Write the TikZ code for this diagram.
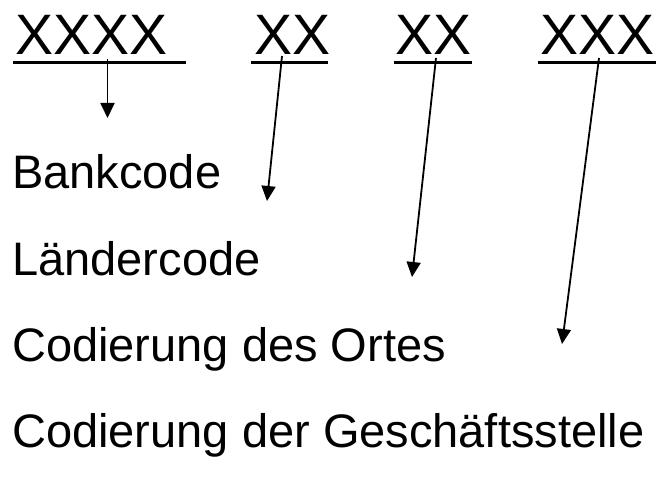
\documentclass[tikz,border=0pt]{standalone}
\usepackage{fontspec}
\setmainfont{Liberation Sans}
\usetikzlibrary{arrows.meta}
\begin{document}
\begin{tikzpicture}[x=1pt,y=-1pt,
  codetext/.style={font=\fontsize{57}{57}\selectfont, inner sep=0pt, anchor=base west},
  desc/.style={font=\fontsize{47}{47}\selectfont, inner sep=0pt, anchor=base west},
  uline/.style={line width=3pt},
  pointer/.style={line width=1.8pt, -{Triangle[length=15pt,width=14pt]}}]
\useasboundingbox (0,0) rectangle (662,484);

% code groups
\node[codetext] (g1) at (15,55) {XXXX};
\node[codetext] (g2) at (254,55) {XX};
\node[codetext] (g3) at (395,55) {XX};
\node[codetext] (g4) at (540,55) {XXX};

% underlines of the groups
\draw[uline] (13,62.5) -- (186,62.5);
\draw[uline] (251,62.5) -- (328,62.5);
\draw[uline] (394,62.5) -- (472,62.5);
\draw[uline] (538,62.5) -- (656,62.5);

% meanings
\node[desc] (l1) at (12,189) {Bankcode};
\node[desc] (l2) at (12,275) {Ländercode};
\node[desc] (l3) at (12,361) {Codierung des Ortes};
\node[desc] (l4) at (12,447) {Codierung der Geschäftsstelle};

% pointer ends
\coordinate (s1) at (107.5,59);
\coordinate (e1) at (107.5,118);
\coordinate (s2) at (282,56);
\coordinate (e2) at (267,201);
\coordinate (s3) at (436,58);
\coordinate (e3) at (412,277);
\coordinate (s4) at (599,58);
\coordinate (e4) at (562,344);

\draw[pointer] (s1) -- (e1);
\draw[pointer] (s2) -- (e2);
\draw[pointer] (s3) -- (e3);
\draw[pointer] (s4) -- (e4);
\end{tikzpicture}
\end{document}
